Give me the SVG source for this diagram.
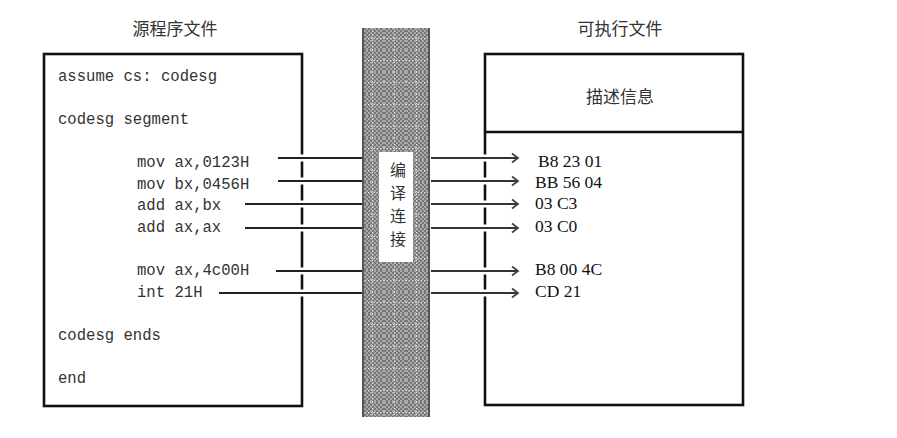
<svg xmlns="http://www.w3.org/2000/svg" width="897" height="438" viewBox="0 0 897 438">
  <defs>
    <pattern id="check" x="0" y="0" width="4" height="4" patternUnits="userSpaceOnUse">
      <rect width="4" height="4" fill="#777"/>
      <rect width="2" height="2" fill="#a9a9a9"/>
      <rect x="2" y="2" width="2" height="2" fill="#a9a9a9"/>
    </pattern>
    <pattern id="grid" x="362" y="28" width="22" height="22" patternUnits="userSpaceOnUse">
      <rect width="22" height="22" fill="url(#check)"/>
      <path d="M10.5 0V22M0 10.5H22" stroke="#e8e8e8" stroke-width="1" stroke-dasharray="1 2"/>
    </pattern>
    <marker id="arr" markerWidth="12" markerHeight="12" refX="10" refY="6" orient="auto" markerUnits="userSpaceOnUse">
      <path d="M4 1.5L10 6L4 10.5" fill="none" stroke="#444" stroke-width="1.8"/>
    </marker>
  </defs>
  <style>
    .box { fill: #fff; stroke: #111; stroke-width: 2.6; }
    .title { font-family: "Noto Sans CJK SC", sans-serif; font-size: 17px; fill: #333; text-anchor: middle; }
    .vt { font-family: "Noto Sans CJK SC", sans-serif; font-size: 16px; fill: #333; text-anchor: middle; }
    .code { font-family: "Liberation Mono", monospace; font-size: 15.6px; fill: #333; }
    .hex { font-family: "Liberation Serif", serif; font-size: 17.5px; fill: #111; }
    .halo { stroke: #fff; stroke-width: 7; fill: none; }
    .ln { stroke: #222; stroke-width: 2; fill: none; }
    .lnr { stroke: #333; stroke-width: 2; fill: none; marker-end: url(#arr); }
  </style>
  <rect width="897" height="438" fill="#fff"/>

  <g id="source-file">
    <text class="title" x="175" y="35">源程序文件</text>
    <rect class="box" x="44" y="54" width="258" height="352"/>
    <text class="code" x="58" y="81">assume cs: codesg</text>
    <text class="code" x="58" y="124">codesg segment</text>
    <text class="code" x="137" y="167">mov ax,0123H</text>
    <text class="code" x="137" y="189">mov bx,0456H</text>
    <text class="code" x="137" y="210">add ax,bx</text>
    <text class="code" x="137" y="232">add ax,ax</text>
    <text class="code" x="137" y="275">mov ax,4c00H</text>
    <text class="code" x="137" y="297">int 21H</text>
    <text class="code" x="58" y="340">codesg ends</text>
    <text class="code" x="58" y="383">end</text>
  </g>

  <g id="exe-file">
    <text class="title" x="620" y="35">可执行文件</text>
    <rect class="box" x="485" y="54" width="258" height="351"/>
    <line x1="485" y1="132" x2="743" y2="132" stroke="#111" stroke-width="2.6"/>
    <text class="title" x="620" y="103">描述信息</text>
    <text class="hex" x="538" y="167">B8 23 01</text>
    <text class="hex" x="535" y="188">BB 56 04</text>
    <text class="hex" x="535" y="209">03 C3</text>
    <text class="hex" x="535" y="232">03 C0</text>
    <text class="hex" x="535" y="275">B8 00 4C</text>
    <text class="hex" x="535" y="297">CD 21</text>
  </g>

  <g id="connectors">
    <path class="halo" d="M278 158H362M278 181H362M245 204H362M245 228H362M276 271H362M219 293H362"/>
    <path class="ln" d="M278 158H362M278 181H362M245 204H362M245 228H362M276 271H362M219 293H362"/>
    <path class="halo" d="M431 158H516M431 181H516M431 204H516M431 228H516M431 271H516M431 293H516"/>
    <line class="lnr" x1="431" y1="158" x2="518" y2="158"/>
    <line class="lnr" x1="431" y1="181" x2="518" y2="181"/>
    <line class="lnr" x1="431" y1="204" x2="518" y2="204"/>
    <line class="lnr" x1="431" y1="228" x2="518" y2="228"/>
    <line class="lnr" x1="431" y1="271" x2="518" y2="271"/>
    <line class="lnr" x1="431" y1="293" x2="518" y2="293"/>
  </g>

  <g id="compile-link">
    <rect x="362" y="28" width="68" height="389" fill="url(#grid)"/>
    <line x1="363" y1="28" x2="363" y2="417" stroke="#555" stroke-width="2"/>
    <line x1="429" y1="28" x2="429" y2="417" stroke="#555" stroke-width="2"/>
    <rect x="379" y="152" width="34" height="110" fill="#fff"/>
    <text class="vt" x="398" y="176">编</text>
    <text class="vt" x="398" y="199">译</text>
    <text class="vt" x="398" y="222">连</text>
    <text class="vt" x="398" y="245">接</text>
  </g>
</svg>
